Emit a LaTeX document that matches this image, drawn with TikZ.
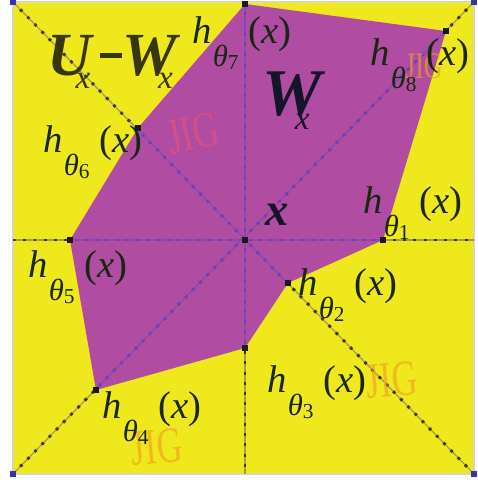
\documentclass[tikz,border=0pt]{standalone}
\usepackage{fontspec}
\setmainfont{Liberation Serif}
\definecolor{bgyellow}{HTML}{EEE81C}
\definecolor{regpurple}{HTML}{B04CA2}
\definecolor{olivel}{HTML}{8C8C58}
\definecolor{olived}{HTML}{2A2418}
\definecolor{violl}{HTML}{8A4AB0}
\definecolor{viold}{HTML}{6040B4}
\definecolor{markc}{HTML}{1A1A1A}
\definecolor{cornc}{HTML}{3434A8}
\definecolor{labc}{HTML}{172810}
\definecolor{uwc}{HTML}{36360F}
\definecolor{wxc}{HTML}{14142A}
\definecolor{wmorange}{HTML}{F5A020}
\definecolor{wmpink}{HTML}{E8507A}
\definecolor{framec}{HTML}{D9D9B0}
\newcommand\hlab[1]{\textit{h}\hspace{1pt}\raisebox{-0.6em}{\fontsize{23}{23}\selectfont\textit{θ}\raisebox{-0.1em}{\fontsize{16}{16}\selectfont #1}}\hspace{0.25em}(\textit{x})}
\begin{document}
\begin{tikzpicture}[x=0.75pt,y=-0.75pt,
  lab/.style={anchor=base west, inner sep=0, text=labc, font=\fontsize{29}{29}\selectfont},
  big/.style={anchor=base west, inner sep=0, font=\fontsize{46}{46}\selectfont\bfseries\itshape},
  outline/.style={draw=olivel, line width=0.9pt, draw opacity=0.8},
  outdots/.style={draw=olived, line width=2.2pt, dash pattern=on 2.2pt off 5.5pt, draw opacity=0.85},
  inline/.style={draw=violl, line width=0.9pt},
  indots/.style={draw=viold, line width=2.2pt, dash pattern=on 2.2pt off 5.5pt, draw opacity=0.8},
  vmark/.style={fill=markc, minimum size=4.5pt, inner sep=0, rectangle},
  cmark/.style={fill=cornc, minimum size=4pt, inner sep=0, rectangle},
  wm/.style={inner sep=0, text opacity=0.65, font=\fontsize{38}{38}\selectfont}]
\useasboundingbox[fill=white] (0,0) rectangle (478,483);
% frame and region
\coordinate (TL) at (13,2);
\coordinate (TR) at (474,2);
\coordinate (BL) at (13,474);
\coordinate (BR) at (474,474);
\coordinate (O) at (245,240);
\coordinate (L) at (13,240);
\coordinate (R) at (474,240);
\coordinate (T) at (245,2);
\coordinate (B) at (245,474);
\fill[bgyellow] (TL) rectangle (BR);
\draw[framec, line width=1.2pt] (TL) rectangle (BR);
% direction lines (outside the region)
\foreach \a/\b in {L/R, T/B, TL/BR, BL/TR}{
  \draw[outline] (\a) -- (\b);
  \draw[outdots] (\a) -- (\b);
}
% polygon vertices
\coordinate (v7) at (245,4);
\coordinate (v8) at (446,31);
\coordinate (v1) at (383,240);
\coordinate (v2) at (288,283);
\coordinate (v3) at (245,348);
\coordinate (v4) at (96,390);
\coordinate (v5) at (70,240);
\coordinate (v6) at (138,128);
\fill[regpurple] (v7) -- (v8) -- (v1) -- (v2) -- (v3) -- (v4) -- (v5) -- (v6) -- cycle;
% direction lines (inside the region)
\begin{scope}
\clip (v7) -- (v8) -- (v1) -- (v2) -- (v3) -- (v4) -- (v5) -- (v6) -- cycle;
\foreach \a/\b in {L/R, T/B, TL/BR, BL/TR}{
  \draw[inline] (\a) -- (\b);
  \draw[indots] (\a) -- (\b);
}
\end{scope}
% marks
\foreach \v in {v1,v2,v3,v4,v5,v6,v7,v8,O}{
  \node[vmark] at (\v) {};
}
\foreach \v in {TL,TR,BL,BR}{
  \node[cmark] at (\v) {};
}
% watermarks
\node[wm, text=wmpink, rotate=12] (w1) at (193,133) {\scalebox{0.7}[1]{JIG}};
\node[wm, text=wmorange, font=\fontsize{28}{28}\selectfont] (w2) at (424,66) {\scalebox{0.7}[1]{JIG}};
\node[wm, text=wmorange, rotate=5] (w3) at (392,380) {\scalebox{0.7}[1]{JIG}};
\node[wm, text=wmorange, rotate=5] (w4) at (157,447) {\scalebox{0.7}[1]{JIG}};
% labels
\node[lab] (h7) at (192,43) {\hlab{7}};
\node[lab] (h8) at (370,65) {\hlab{8}};
\node[lab] (h6) at (43,152) {\hlab{6}};
\node[lab] (h1) at (363,213) {\hlab{1}};
\node[lab] (h5) at (28,277) {\hlab{5}};
\node[lab] (h2) at (298,295) {\hlab{2}};
\node[lab] (h3) at (267,392) {\hlab{3}};
\node[lab] (h4) at (102,418) {\hlab{4}};
\node[big, text=uwc] (uw) at (47,75) {U\hspace{-12pt}\raisebox{-10pt}{\fontsize{25}{25}\selectfont\mdseries x}\hspace{7pt}\rule[13pt]{17pt}{3.5pt}W\hspace{-14pt}\raisebox{-10pt}{\fontsize{25}{25}\selectfont\mdseries x}};
\node[big, text=wxc, font=\fontsize{50}{50}\selectfont\bfseries\itshape] (wx) at (262,115) {W\hspace{-20pt}\raisebox{-11pt}{\fontsize{25}{25}\selectfont\mdseries x}};
\node[anchor=base west, inner sep=0, text=wxc, font=\fontsize{35}{35}\selectfont\bfseries\itshape] (xc) at (265,225) {x};
\end{tikzpicture}
\end{document}
